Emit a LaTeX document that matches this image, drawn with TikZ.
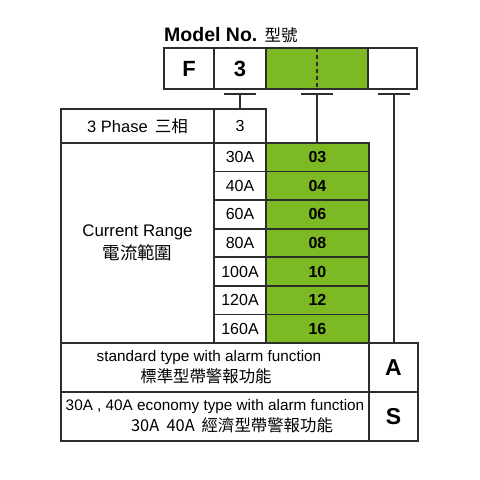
\documentclass[tikz,border=0pt]{standalone}
\usepackage{fontspec}
\setmainfont{Liberation Sans}
\newfontfamily\cjk{Noto Sans CJK TC}
\usetikzlibrary{positioning}
\definecolor{codegreen}{RGB}{125,185,35}
\definecolor{rulegray}{RGB}{45,45,45}
\tikzstyle{cell} = [rectangle, draw=rulegray, line width=1.6pt, inner sep=0pt, outer sep=0pt, text centered, fill=white]
\tikzstyle{codebox} = [cell, minimum height=41pt, font=\fontsize{22}{24}\selectfont\bfseries]
\tikzstyle{ampcell} = [cell, minimum width=52pt, minimum height=28.57pt, font=\fontsize{16}{18}\selectfont]
\tikzstyle{greencell} = [cell, fill=codegreen, minimum width=103pt, minimum height=28.57pt, font=\fontsize{16}{18}\selectfont\bfseries]
\tikzstyle{typecell} = [cell, minimum width=308pt, minimum height=49pt, align=center, font=\fontsize{15.3}{21}\selectfont]
\tikzstyle{lettercell} = [cell, minimum width=49pt, minimum height=49pt, font=\fontsize{23}{24}\selectfont\bfseries]
\tikzstyle{tbar} = [line width=2pt, draw=rulegray]
\def\rowh{28.57}
\def\cjktype{\cjk\fontsize{16.4}{21}\selectfont}

\begin{document}
\begin{tikzpicture}[x=1pt, y=-1pt]
\useasboundingbox (0,0) rectangle (480,480);

\node (title) [anchor=base west, inner sep=0pt, font=\fontsize{19.5}{20}\selectfont\bfseries] at (164,41) {Model No. {\cjk\mdseries\fontsize{16.5}{18}\selectfont 型號}};

% model number boxes
\node (boxF) [codebox, minimum width=50pt] at (189,68.5) {F};
\node (box3) [codebox, minimum width=52pt, right=0pt of boxF] {3};
\node (boxG) [codebox, minimum width=102pt, fill=codegreen, right=0pt of box3] {};
\node (boxX) [codebox, minimum width=49pt, right=0pt of boxG] {};
\draw [rulegray, line width=2pt, dash pattern=on 4pt off 3pt] (boxG.north) -- (boxG.south);

% phase
\node (phase) [cell, minimum width=153pt, minimum height=34pt, font=\fontsize{16.5}{18}\selectfont] at (137.5,126) {3 Phase\hspace{7pt}{\cjk 三相}};
\node (phase3) [cell, minimum width=52pt, minimum height=34pt, font=\fontsize{16}{18}\selectfont, right=0pt of phase] {3};

% current range
\node (range) [cell, minimum width=153pt, minimum height=200pt, align=center, font=\fontsize{16.8}{23}\selectfont, below=0pt of phase] {Current Range\\{\cjk\fontsize{17.5}{23}\selectfont 電流範圍}};
\foreach \amp/\code [count=\i] in {30A/03,40A/04,60A/06,80A/08,100A/10,120A/12,160A/16} {
  \node (amp\i) [ampcell] at (240,{143+\rowh*\i-\rowh/2}) {\amp};
  \node (code\i) [greencell, right=0pt of amp\i] {\code};
}

% type
\node (typeA) [typecell] at (215,367.5) {standard type with alarm function\hspace*{12pt}\\{\cjktype 標準型帶警報功能}\hspace*{18pt}};
\node (letterA) [lettercell, right=0pt of typeA] {A};
\node (typeS) [typecell] at (215,416.5) {30A , 40A economy type with alarm function\\\hspace*{34pt}{\cjktype 30A\ \ 40A\hspace{7pt}經濟型帶警報功能}};
\node (letterS) [lettercell, right=0pt of typeS] {S};

% connectors
\coordinate (t1) at ([yshift=-5pt]box3.south);
\coordinate (t2) at ([yshift=-5pt]boxG.south);
\coordinate (t3) at ([yshift=-5pt,xshift=1pt]boxX.south);
\foreach \t in {t1,t2,t3}
  \draw [tbar] ([xshift=-16pt]\t) -- ([xshift=16pt]\t);
\draw [tbar] (t1) -- (phase3.north);
\draw [tbar] (t2) -- (t2 |- code1.north);
\draw [tbar] (t3) -- (t3 |- letterA.north);

\end{tikzpicture}
\end{document}
